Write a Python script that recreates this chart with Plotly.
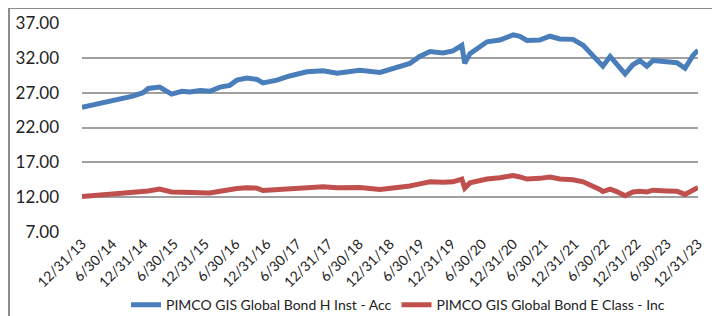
import plotly.graph_objects as go

dates = [
    "2013-12-31", "2014-04-15", "2014-07-25", "2014-10-28", "2014-12-28", "2015-01-28",
    "2015-04-05", "2015-06-15", "2015-08-15", "2015-10-01", "2015-12-01", "2016-01-28",
    "2016-03-28", "2016-05-25", "2016-07-06", "2016-09-03", "2016-11-02", "2016-12-08",
    "2017-03-01", "2017-05-15", "2017-08-25", "2017-11-30", "2018-02-20", "2018-07-05",
    "2018-11-02", "2019-01-18", "2019-04-28", "2019-06-25", "2019-08-25", "2019-11-10",
    "2020-01-08", "2020-03-01", "2020-03-18", "2020-04-18", "2020-07-28", "2020-10-12",
    "2020-12-31", "2021-02-08", "2021-03-22", "2021-06-05", "2021-08-05", "2021-10-03",
    "2021-12-20", "2022-02-18", "2022-04-18", "2022-05-28", "2022-06-15", "2022-07-28",
    "2022-09-05", "2022-10-25", "2022-12-10", "2023-01-20", "2023-03-03", "2023-04-08",
    "2023-06-28", "2023-08-28", "2023-10-15", "2023-12-03", "2023-12-31",
]

h_inst_acc = [
    24.9, 25.4, 26.0, 26.5, 27.0, 27.6,
    27.8, 26.8, 27.2, 27.1, 27.3, 27.2,
    27.8, 28.05, 28.8, 29.1, 28.9, 28.4,
    28.8, 29.4, 30.0, 30.15, 29.8, 30.2,
    29.9, 30.5, 31.2, 32.2, 32.9, 32.7,
    33.0, 33.8, 31.2, 32.6, 34.3, 34.55,
    35.3, 35.1, 34.5, 34.55, 35.1, 34.7,
    34.65, 33.8, 32.4, 31.4, 30.8, 32.2,
    31.2, 29.7, 31.0, 31.6, 30.8, 31.6,
    31.45, 31.3, 30.5, 32.4, 33.1,
]

e_class_inc = [
    12.1, 12.3, 12.5, 12.7, 12.75, 12.9,
    13.15, 12.75, 12.7, 12.7, 12.65, 12.6,
    12.85, 13.1, 13.25, 13.35, 13.3, 12.95,
    13.05, 13.2, 13.35, 13.5, 13.35, 13.4,
    13.1, 13.3, 13.6, 13.9, 14.2, 14.15,
    14.2, 14.6, 13.3, 14.05, 14.6, 14.8,
    15.1, 14.9, 14.6, 14.7, 14.9, 14.6,
    14.5, 14.2, 13.6, 13.1, 12.8, 13.15,
    12.8, 12.2, 12.75, 12.85, 12.75, 13.0,
    12.9, 12.85, 12.4, 13.0, 13.4,
]

tick_dates = [
    "2013-12-31", "2014-06-30", "2014-12-31", "2015-06-30", "2015-12-31", "2016-06-30",
    "2016-12-31", "2017-06-30", "2017-12-31", "2018-06-30", "2018-12-31", "2019-06-30",
    "2019-12-31", "2020-06-30", "2020-12-31", "2021-06-30", "2021-12-31", "2022-06-30",
    "2022-12-31", "2023-06-30", "2023-12-31",
]
tick_labels = [
    "12/31/13", "6/30/14", "12/31/14", "6/30/15", "12/31/15", "6/30/16",
    "12/31/16", "6/30/17", "12/31/17", "6/30/18", "12/31/18", "6/30/19",
    "12/31/19", "6/30/20", "12/31/20", "6/30/21", "12/31/21", "6/30/22",
    "12/31/22", "6/30/23", "12/31/23",
]
y_ticks = [7, 12, 17, 22, 27, 32, 37]

series_names = ["PIMCO GIS Global Bond H Inst - Acc", "PIMCO GIS Global Bond E Class - Inc"]

fig = go.Figure()
fig.add_trace(go.Scatter(x=dates, y=h_inst_acc, mode="lines", name=series_names[0],
                         line=dict(color="#4A7EBB", width=5)))
fig.add_trace(go.Scatter(x=dates, y=e_class_inc, mode="lines", name=series_names[1],
                         line=dict(color="#C0504D", width=5)))

FONT = "Lato"
fig.update_layout(
    width=720, height=316,
    margin=dict(l=74, r=30, t=15, b=92, autoexpand=False),
    paper_bgcolor="white", plot_bgcolor="white",
    showlegend=True,
    legend=dict(orientation="h", x=0.513, xanchor="center", y=-0.35, yanchor="middle",
                font=dict(family=FONT, size=14, color="#222222"),
                bgcolor="rgba(0,0,0,0)"),
    xaxis=dict(
        range=["2013-12-31", "2023-12-31"], tickvals=tick_dates, ticktext=tick_labels,
        tickangle=-45, showgrid=False, zeroline=False, showline=False, ticks="",
        automargin=False,
        tickfont=dict(family=FONT, size=14, color="#222222"),
    ),
    yaxis=dict(
        range=[7, 37], tickvals=y_ticks, ticktext=[f"{v:.2f}" for v in y_ticks],
        showgrid=True, gridcolor="#A0A0A0", gridwidth=1.6, zeroline=False, showline=False,
        ticks="", ticklabelstandoff=22, automargin=False,
        tickfont=dict(family=FONT, size=17, color="#222222"),
    ),
    shapes=[
        dict(type="line", xref="paper", yref="paper", x0=-0.1185, x1=-0.1185, y0=1.0718, y1=-1.0,
             line=dict(color="#8C8C8C", width=2)),
        dict(type="line", xref="paper", yref="paper", x0=-0.1185, x1=1.2, y0=1.0718, y1=1.0718,
             line=dict(color="#8C8C8C", width=2)),
    ],
)

fig.write_html("out.html")
